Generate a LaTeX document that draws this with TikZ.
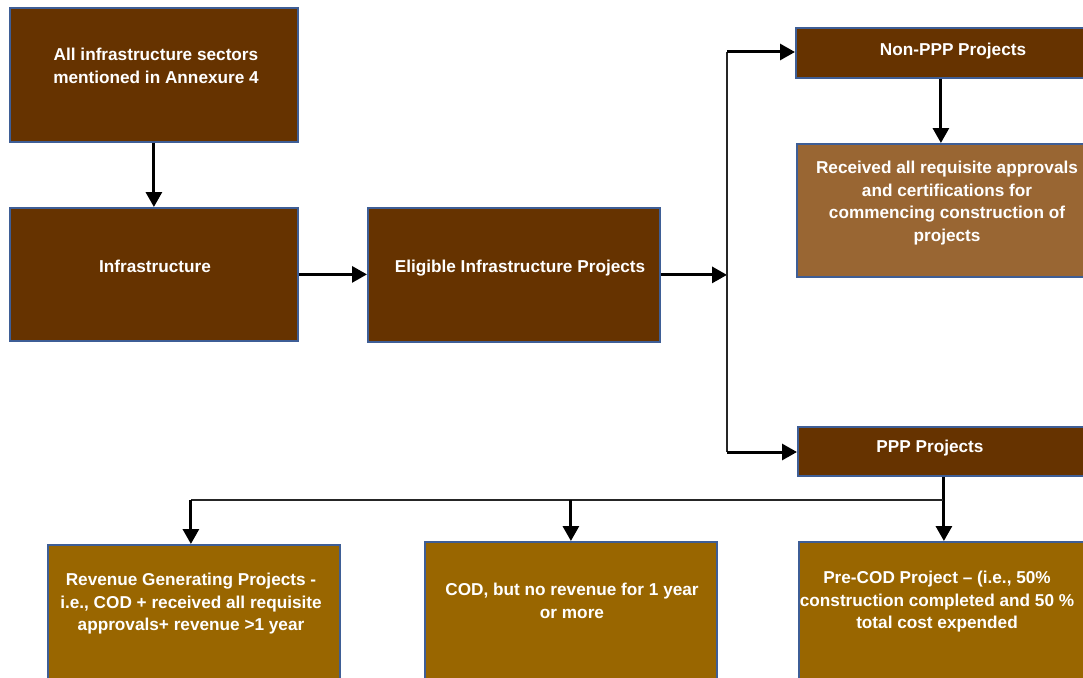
\documentclass[tikz,border=0pt]{standalone}
\usepackage{fontspec}
\setmainfont{Liberation Sans}
\usetikzlibrary{arrows.meta}
\definecolor{darkbrown}{RGB}{102,51,0}
\definecolor{midbrown}{RGB}{153,102,51}
\definecolor{ochre}{RGB}{153,102,0}
\definecolor{edgeblue}{RGB}{62,94,150}
\begin{document}
\begin{tikzpicture}[x=1pt,y=-1pt,
  box/.style={draw=edgeblue,line width=1.8pt,inner sep=0pt,anchor=north west},
  txt/.style={text=white,align=center,inner sep=0pt,
    font=\fontsize{17.2}{22.5}\selectfont\bfseries},
  arr/.style={line width=3pt,-{Triangle[length=15pt,width=16pt]}},
  trunk/.style={line width=1.2pt,black!85}]
\useasboundingbox (0,0) rectangle (1083,677);
\clip (0,0) rectangle (1083,677);

% boxes
\node[box,fill=darkbrown,minimum width=288pt,minimum height=134pt] (sectors) at (9,7) {};
\node[box,fill=darkbrown,minimum width=288pt,minimum height=133pt] (infra) at (9,207) {};
\node[box,fill=darkbrown,minimum width=292pt,minimum height=134pt] (elig) at (367,207) {};
\node[box,fill=darkbrown,minimum width=290pt,minimum height=50pt] (nonppp) at (795,27) {};
\node[box,fill=midbrown,minimum width=290pt,minimum height=133pt] (approvals) at (796,143) {};
\node[box,fill=darkbrown,minimum width=292pt,minimum height=49pt] (ppp) at (797,426) {};
\node[box,fill=ochre,minimum width=292pt,minimum height=140pt] (revenue) at (47,544) {};
\node[box,fill=ochre,minimum width=292pt,minimum height=143pt] (cod) at (424,541) {};
\node[box,fill=ochre,minimum width=290pt,minimum height=143pt] (precod) at (798,541) {};

% labels
\node[txt] (sectorsT) at (156,66) {All infrastructure sectors\\mentioned in Annexure 4};
\node[txt] (infraT) at (155,266) {Infrastructure};
\node[txt] (eligT) at (520,268) {Eligible Infrastructure Projects};
\node[txt] (nonpppT) at (953,51) {Non-PPP Projects};
\node[txt] (approvalsT) at (947,203) {Received all requisite approvals\\and certifications for\\commencing construction of\\projects};
\node[txt] (pppT) at (930,448) {PPP Projects};
\node[txt] (revenueT) at (191,604) {Revenue Generating Projects -\\i.e., COD + received all requisite\\approvals+ revenue >1 year};
\node[txt] (codT) at (572,601) {COD, but no revenue for 1 year\\or more};
\node[txt] (precodT) at (937,602) {Pre-COD Project -- (i.e., 50\%\\construction completed and 50 \%\\total cost expended};

% junction points
\coordinate (split) at (727,273);
\coordinate (ttop) at (727,52);
\coordinate (tbot) at (727,452);
\coordinate (bus) at (943,500);
\coordinate (revin) at ([xshift=-3pt]revenue.north);

% connectors
\draw[arr] (sectors.south) -- (infra.north);
\draw[arr] (infra.east) -- (infra.east -| elig.west);
\draw[arr] (elig.east) -- (elig.east -| split);
\draw[trunk] (ttop) -- (tbot);
\draw[arr] (ttop) -- (ttop -| nonppp.west);
\draw[arr] (tbot) -- (tbot -| ppp.west);
\draw[arr] (nonppp.south) -- (approvals.north -| nonppp.south);
\draw[arr] (ppp.south) -- (precod.north -| ppp.south);
\draw[trunk] (bus) -- (bus -| revin);
\draw[arr] (bus -| revin) -- (revin);
\draw[arr] (bus -| cod.north) -- (cod.north);
\end{tikzpicture}
\end{document}
